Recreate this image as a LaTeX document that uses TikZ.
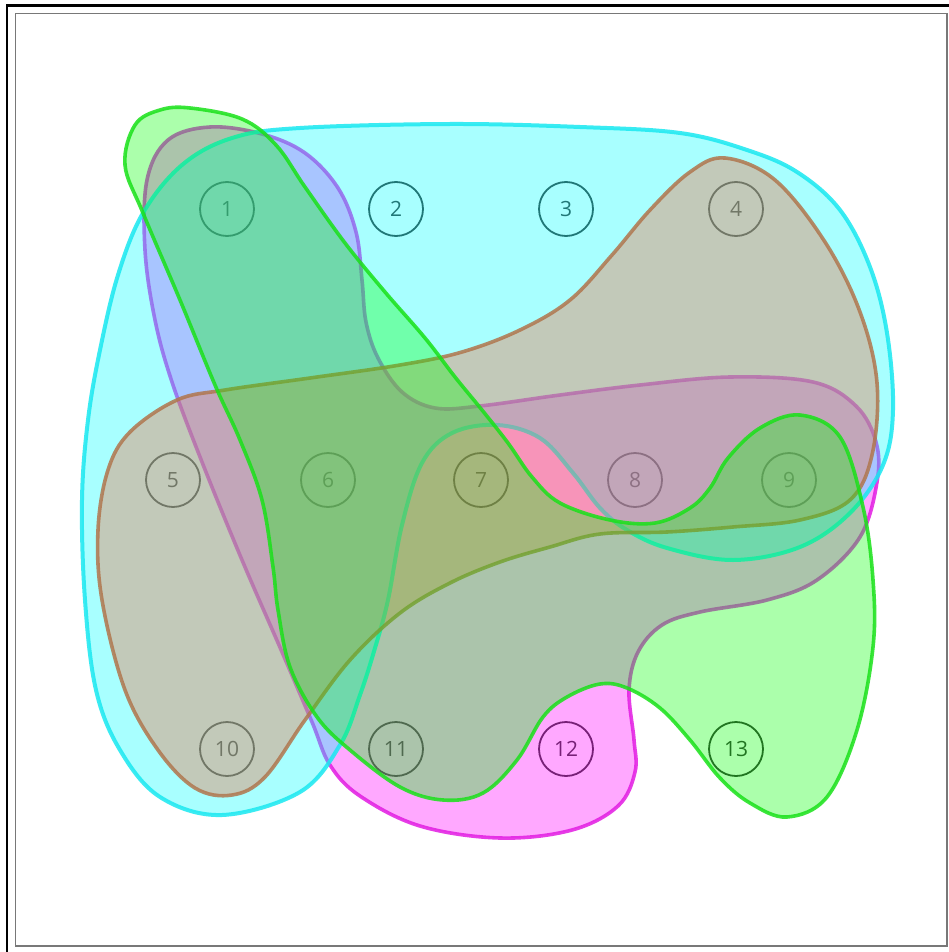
\documentclass[tikz,border=0pt]{standalone}
\usepackage{fontspec}
\setmainfont{Open Sans}
\definecolor{cyS}{RGB}{25,232,240}
\definecolor{cyF}{RGB}{0,255,255}
\definecolor{mgS}{RGB}{226,28,226}
\definecolor{mgF}{RGB}{255,0,255}
\definecolor{brS}{RGB}{176,118,78}
\definecolor{brF}{RGB}{235,120,80}
\definecolor{grS}{RGB}{25,225,25}
\definecolor{grF}{RGB}{0,255,0}
\definecolor{vtxC}{RGB}{50,50,50}
\definecolor{frameG}{RGB}{120,120,120}
\tikzset{
  vtx/.style={circle, draw=vtxC, text=vtxC, minimum size=54pt, inner sep=0pt, line width=1.8pt, font=\fontsize{21}{21}\selectfont},
  blob/.style={line width=3.6pt, draw opacity=0.85},
}
\begin{document}
\begin{tikzpicture}[x=1pt,y=-1pt]
\useasboundingbox (0,0) rectangle (949,952);
\fill[white] (0,0) rectangle (949,952);
% frames
\draw[line width=2.2pt, black] (7,952) -- (7,5.5) -- (949,5.5);
\draw[line width=1.3pt, frameG] (15.3,13.3) rectangle (947,946);
% vertices
\node[vtx] (n1) at (227,209) {1};
\node[vtx] (n2) at (396,209) {2};
\node[vtx] (n3) at (566,209) {3};
\node[vtx] (n4) at (736,209) {4};
\node[vtx] (n5) at (173,480) {5};
\node[vtx] (n6) at (328,480) {6};
\node[vtx] (n7) at (481,480) {7};
\node[vtx] (n8) at (635,480) {8};
\node[vtx] (n9) at (789,480) {9};
\node[vtx] (n10) at (227,749) {10};
\node[vtx] (n11) at (396,749) {11};
\node[vtx] (n12) at (566,749) {12};
\node[vtx] (n13) at (736,749) {13};
% magenta
\draw[blob, draw=mgS, fill=mgF, fill opacity=0.34] plot[smooth cycle, tension=0.6] coordinates {
(210,127) (262,134) (305,153) (338,188) (356,232) (362,280) (366,322) (378,358) (402,392) (435,408) (480,406) (560,395) (640,385) (730,377) (813,382) (856,406) (876,442) (877,482) (860,537) (817,580) (767,600) (700,612) (662,625) (638,652) (629,690) (634,740) (635,772) (618,806) (572,830) (500,838) (420,826) (360,796) (330,765) (312,722) (282,652) (242,560) (202,462) (172,382) (155,320) (145,250) (147,180) (168,140)};
% cyan
\draw[blob, line width=4pt, draw=cyS, fill=cyF, fill opacity=0.34] plot[smooth cycle, tension=0.6] coordinates {
(143,213) (182,165) (232,138) (300,128) (450,124) (580,127) (680,133) (747,150) (797,172) (840,210) (870,267) (887,333) (893,410) (883,465) (850,513) (800,547) (733,560) (667,548) (627,530) (600,508) (573,473) (540,438) (497,425) (452,433) (422,463) (402,525) (388,600) (375,648) (360,695) (340,745) (300,792) (222,815) (160,797) (120,750) (96,690) (85,600) (82,500) (88,420) (100,350) (118,275)};
% brown
\draw[blob, draw=brS, fill=brF, fill opacity=0.4] plot[smooth cycle, tension=0.6] coordinates {
(520,330) (570,300) (612,255) (650,210) (690,172) (725,158) (775,180) (825,242) (860,312) (877,383) (872,455) (850,500) (800,520) (733,527) (667,532) (600,534) (550,547) (500,562) (450,583) (400,613) (350,660) (305,720) (265,777) (232,795) (195,788) (158,750) (125,690) (102,600) (98,530) (108,470) (130,432) (177,400) (225,390) (310,378) (400,365) (462,352)};
% green
\draw[blob, draw=grS, fill=grF, fill opacity=0.33] plot[smooth cycle, tension=0.6] coordinates {
(190,108) (242,119) (276,145) (305,187) (345,243) (385,292) (425,338) (455,377) (482,410) (508,443) (532,477) (560,503) (610,520) (655,523) (690,508) (710,488) (728,458) (760,428) (800,415) (840,437) (863,507) (873,580) (873,647) (857,730) (827,797) (787,817) (750,803) (720,778) (690,740) (660,708) (627,688) (600,684) (567,697) (543,717) (517,760) (483,793) (443,800) (400,787) (350,750) (317,717) (290,667) (278,610) (273,567) (262,500) (240,440) (215,385) (180,300) (143,213) (125,165) (135,125) (160,110)};
\end{tikzpicture}
\end{document}
